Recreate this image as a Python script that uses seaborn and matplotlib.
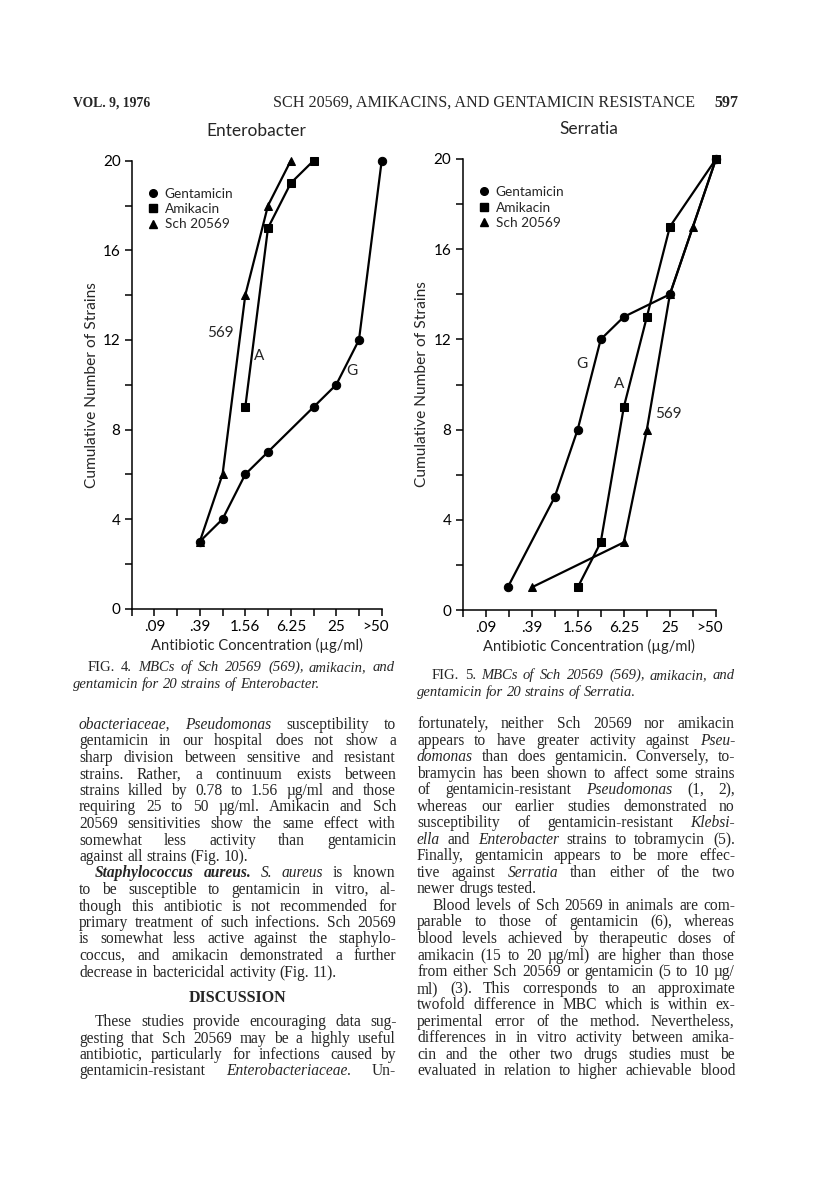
import numpy as np
import pandas as pd
import matplotlib
matplotlib.use("Agg")
from matplotlib import pyplot as plt
from matplotlib import transforms as mtransforms
from matplotlib.lines import Line2D
import seaborn as sns

# MBC data, concentrations in ug/ml
# ">50" is drawn on the next doubling step (100)
ent_gen_conc = [0.39, 0.78, 1.56, 3.12, 12.5, 25, 50, 100]
ent_gen_n = [3, 4, 6, 7, 9, 10, 12, 20]
ent_ami_conc = [1.56, 3.12, 6.25, 12.5]
ent_ami_n = [9, 17, 19, 20]
ent_sch_conc = [0.39, 0.78, 1.56, 3.12, 6.25]
ent_sch_n = [3, 6, 14, 18, 20]

ser_gen_conc = [0.19, 0.78, 1.56, 3.12, 6.25, 25, 100]
ser_gen_n = [1, 5, 8, 12, 13, 14, 20]
ser_ami_conc = [1.56, 3.12, 6.25, 12.5, 25, 100]
ser_ami_n = [1, 3, 9, 13, 17, 20]
ser_sch_conc = [0.39, 6.25, 12.5, 25, 50, 100]
ser_sch_n = [1, 3, 8, 14, 17, 20]

drugs = ["Gentamicin", "Amikacin", "Sch 20569"]
tick_conc = [100 / 2 ** n for n in range(11, -1, -1)]
tick_labels = ["", ".09", "", ".39", "", "1.56", "", "6.25", "", "25", "", ">50"]
y_major = [0, 4, 8, 12, 16, 20]
y_minor = [2, 6, 10, 14, 18]

left_col = [
    ("_obacteriaceae,_ _Pseudomonas_ susceptibility to", 0, True),
    ("gentamicin in our hospital does not show a", 0, True),
    ("sharp division between sensitive and resistant", 0, True),
    ("strains. Rather, a continuum exists between", 0, True),
    ("strains killed by 0.78 to 1.56 µg/ml and those", 0, True),
    ("requiring 25 to 50 µg/ml. Amikacin and Sch", 0, True),
    ("20569 sensitivities show the same effect with", 0, True),
    ("somewhat less activity than gentamicin", 0, True),
    ("against all strains (Fig. 10).", 0, False),
    ("*Staphylococcus* *aureus.* _S._ _aureus_ is known", 1, True),
    ("to be susceptible to gentamicin in vitro, al-", 0, True),
    ("though this antibiotic is not recommended for", 0, True),
    ("primary treatment of such infections. Sch 20569", 0, True),
    ("is somewhat less active against the staphylo-", 0, True),
    ("coccus, and amikacin demonstrated a further", 0, True),
    ("decrease in bactericidal activity (Fig. 11).", 0, False),
    None,
    None,
    ("These studies provide encouraging data sug-", 1, True),
    ("gesting that Sch 20569 may be a highly useful", 0, True),
    ("antibiotic, particularly for infections caused by", 0, True),
    ("gentamicin-resistant _Enterobacteriaceae._ Un-", 0, True),
]
right_col = [
    ("fortunately, neither Sch 20569 nor amikacin", 0, True),
    ("appears to have greater activity against _Pseu-_", 0, True),
    ("_domonas_ than does gentamicin. Conversely, to-", 0, True),
    ("bramycin has been shown to affect some strains", 0, True),
    ("of gentamicin-resistant _Pseudomonas_ (1, 2),", 0, True),
    ("whereas our earlier studies demonstrated no", 0, True),
    ("susceptibility of gentamicin-resistant _Klebsi-_", 0, True),
    ("_ella_ and _Enterobacter_ strains to tobramycin (5).", 0, True),
    ("Finally, gentamicin appears to be more effec-", 0, True),
    ("tive against _Serratia_ than either of the two", 0, True),
    ("newer drugs tested.", 0, False),
    ("Blood levels of Sch 20569 in animals are com-", 1, True),
    ("parable to those of gentamicin (6), whereas", 0, True),
    ("blood levels achieved by therapeutic doses of", 0, True),
    ("amikacin (15 to 20 µg/ml) are higher than those", 0, True),
    ("from either Sch 20569 or gentamicin (5 to 10 µg/", 0, True),
    ("ml) (3). This corresponds to an approximate", 0, True),
    ("twofold difference in MBC which is within ex-", 0, True),
    ("perimental error of the method. Nevertheless,", 0, True),
    ("differences in in vitro activity between amika-", 0, True),
    ("cin and the other two drugs studies must be", 0, True),
    ("evaluated in relation to higher achievable blood", 0, True),
]

W, H = 816, 1199
SANS = "Lato"
SERIF = "Liberation Serif"
MARKERS = {"Gentamicin": "o", "Amikacin": "s", "Sch 20569": "^"}
PAL = {d: "black" for d in drugs}

sns.set_theme(style="ticks")
plt.rcParams["font.family"] = [SANS, "DejaVu Sans"]
plt.rcParams["axes.linewidth"] = 1.1
plt.rcParams["axes.edgecolor"] = "black"
plt.rcParams["xtick.color"] = "black"
plt.rcParams["ytick.color"] = "black"

fig = plt.figure(figsize=(W / 100, H / 100), dpi=100)
px = mtransforms.IdentityTransform()


def mbc_panel(rect, series, title, notes):
    ax = fig.add_axes(rect)
    ax.set_xscale("log", base=2)
    df = pd.concat([pd.DataFrame({"conc": c, "n": n, "drug": d})
                    for d, (c, n) in zip(drugs, series)])
    sns.lineplot(data=df, x="conc", y="n", hue="drug", style="drug",
                 markers=MARKERS, dashes=False, palette=PAL, estimator=None,
                 sort=False, legend=False, lw=1.6, ms=6, mec="black", ax=ax)
    for ln in ax.lines:
        ln.set_clip_on(False)
    ax.set_xlim(tick_conc[0], tick_conc[-1])
    ax.set_ylim(0, 20)
    ax.xaxis.set_minor_locator(matplotlib.ticker.NullLocator())
    ax.set_xticks(tick_conc, tick_labels)
    ax.set_yticks(y_major)
    ax.set_yticks(y_minor, minor=True)
    ax.tick_params(which="both", direction="out", length=5, width=1.1,
                   labelsize=11, pad=3)
    sns.despine(ax=ax)
    lab = ax.get_xticklabels()[-1]
    lab.set_transform(lab.get_transform() +
                      mtransforms.ScaledTranslation(-0.06, 0, fig.dpi_scale_trans))
    ax.set_xlabel("Antibiotic Concentration (µg/ml)", fontsize=10.6, labelpad=3)
    ax.set_ylabel("Cumulative Number of Strains", fontsize=11.2, labelpad=3)
    ax.set_title(title, fontsize=12.5, pad=18)
    handles = [Line2D([], [], marker=MARKERS[d], color="black", ls="none", ms=5.5)
               for d in drugs]
    ax.legend(handles, drugs, loc="upper left", bbox_to_anchor=(0.04, 0.955),
              frameon=False, fontsize=9.8, handlelength=0.6, handletextpad=0.6,
              labelspacing=0.25, borderpad=0)
    for txt, xv, yv in notes:
        ax.text(xv, yv, txt, fontsize=11, ha="center", va="center")
    return ax


mbc_panel([131.7 / W, 1 - 608.7 / H, 250 / W, 448 / H],
          [(ent_gen_conc, ent_gen_n), (ent_ami_conc, ent_ami_n), (ent_sch_conc, ent_sch_n)],
          "Enterobacter",
          [("569", 0.74, 12.3), ("A", 2.4, 11.3), ("G", 40, 10.6)])
mbc_panel([462.5 / W, 1 - 610 / H, 253.5 / W, 451 / H],
          [(ser_gen_conc, ser_gen_n), (ser_ami_conc, ser_ami_n), (ser_sch_conc, ser_sch_n)],
          "Serratia",
          [("G", 1.75, 10.9), ("A", 5.5, 10.0), ("569", 24, 8.7)])

rend = fig.canvas.get_renderer()


def put_line(line, x0, x1, y, size, justify, base_style="normal"):
    runs = []
    for w in line.split():
        st, wt = base_style, "normal"
        if w.startswith("*") and w.endswith("*"):
            w, st, wt = w[1:-1], "italic", "bold"
        elif w.startswith("_") and w.endswith("_"):
            w, st = w[1:-1], "italic"
        elif w.startswith("~"):
            w, st = w[1:], "normal"
        runs.append((w, st, wt))
    texts = [fig.text(0, 0, w, fontsize=size, family=SERIF, style=st, weight=wt,
                      transform=px, va="baseline") for w, st, wt in runs]
    widths = [t.get_window_extent(rend).width for t in texts]
    gap = size * 100 / 72 * 0.25
    if justify and len(texts) > 1:
        gap = max((x1 - x0 - sum(widths)) / (len(texts) - 1), 2.5)
    x = x0
    for t, w in zip(texts, widths):
        t.set_position((round(x), round(H - y)))
        x += w + gap


# page header
fig.text(73, H - 107, "VOL. 9, 1976", fontsize=9.8, family=SERIF, weight="bold", transform=px)
fig.text(273, H - 107, "SCH 20569, AMIKACINS, AND GENTAMICIN RESISTANCE",
         fontsize=11.6, family=SERIF, transform=px)
fig.text(738, H - 107, "597", fontsize=11.5, family=SERIF, weight="bold", ha="right", transform=px)

# figure captions
put_line("~FIG. ~4. MBCs of Sch 20569 (569), amikacin, and", 88, 395, 671, 10.5, True, "italic")
put_line("gentamicin for 20 strains of Enterobacter.", 73, 395, 688, 10.5, False, "italic")
put_line("~FIG. ~5. MBCs of Sch 20569 (569), amikacin, and", 432, 735, 679, 10.5, True, "italic")
put_line("gentamicin for 20 strains of Serratia.", 417, 735, 696, 10.5, False, "italic")

# body text
for i, item in enumerate(left_col):
    if item is None:
        continue
    txt, ind, just = item
    put_line(txt, 79 + 16 * ind, 396, 729 + i * 16.5, 11.2, just)
fig.text(238, H - 1002, "DISCUSSION", fontsize=11.5, family=SERIF, weight="bold",
         ha="center", transform=px)
for i, (txt, ind, just) in enumerate(right_col):
    put_line(txt, 417 + 16 * ind, 735, 728 + i * 16.54, 11.2, just)

fig.savefig("out.png", dpi=100)
